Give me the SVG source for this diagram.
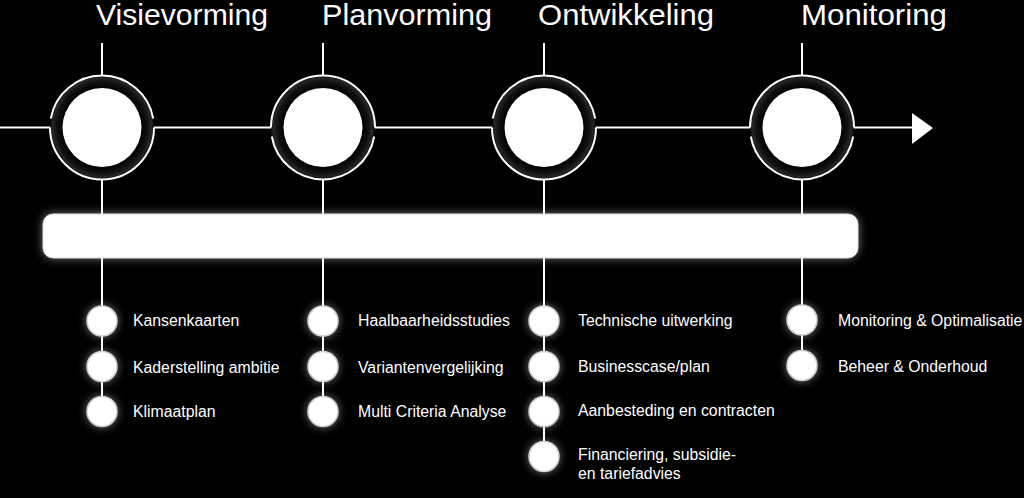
<svg xmlns="http://www.w3.org/2000/svg" width="1024" height="498" viewBox="0 0 1024 498">
<defs>
<radialGradient id="ringGrad" cx="0.5" cy="0.5" r="0.5">
<stop offset="0.74" stop-color="#000"/>
<stop offset="0.88" stop-color="#111"/>
<stop offset="0.95" stop-color="#262626"/>
<stop offset="1" stop-color="#0a0a0a"/>
</radialGradient>
<filter id="glow" x="-30%" y="-60%" width="160%" height="220%">
<feGaussianBlur in="SourceAlpha" stdDeviation="5" result="b"/>
<feFlood flood-color="#fff" flood-opacity="0.45"/>
<feComposite in2="b" operator="in" result="g"/>
<feMerge><feMergeNode in="g"/><feMergeNode in="SourceGraphic"/></feMerge>
</filter>
<filter id="sglow" x="-80%" y="-80%" width="260%" height="260%">
<feGaussianBlur in="SourceAlpha" stdDeviation="4" result="b"/>
<feFlood flood-color="#fff" flood-opacity="0.45"/>
<feComposite in2="b" operator="in" result="g"/>
<feMerge><feMergeNode in="g"/><feMergeNode in="SourceGraphic"/></feMerge>
</filter>
</defs>
<style>
.line{stroke:#fff;stroke-width:2;fill:none}
.arc{stroke:#fff;stroke-width:2;fill:none}
.ring{fill:url(#ringGrad)}
.core{fill:#fff}
.title{font-family:"Liberation Sans",Arial,sans-serif;font-size:30px;fill:#fff}
.item{font-family:"Liberation Sans",Arial,sans-serif;font-size:15.8px;fill:#fff}
.dot{fill:#fff;stroke:#cfcfcf;stroke-width:1.5;filter:url(#sglow)}
</style>
<rect width="1024" height="498" fill="#000"/>

<g id="connectors">
<line class="line" x1="0" y1="127.5" x2="914" y2="127.5"/>
<polygon points="912,113 933,128 912,144" fill="#fff"/>
<line class="line" x1="102" y1="43" x2="102" y2="75"/>
<line class="line" x1="323" y1="43" x2="323" y2="75"/>
<line class="line" x1="544" y1="43" x2="544" y2="75"/>
<line class="line" x1="802" y1="43" x2="802" y2="75"/>
<line class="line" x1="102" y1="179" x2="102" y2="412"/>
<line class="line" x1="323" y1="179" x2="323" y2="412"/>
<line class="line" x1="544" y1="179" x2="544" y2="457"/>
<line class="line" x1="802" y1="179" x2="802" y2="366"/>
</g>

<g id="phase-visievorming">
<text class="title" x="96" y="25" textLength="172" lengthAdjust="spacingAndGlyphs">Visievorming</text>
<circle class="ring" cx="102" cy="127.5" r="52"/>
<circle class="core" cx="102" cy="127.5" r="39.5"/>
<path class="arc" d="M50.8 118.5 A52 52 0 0 1 153.2 118.5"/>
<path class="arc" d="M50 127.5 A52 52 0 0 0 154 127.5"/>
</g>
<g id="phase-planvorming">
<text class="title" x="322" y="25" textLength="170" lengthAdjust="spacingAndGlyphs">Planvorming</text>
<circle class="ring" cx="323" cy="127.5" r="52"/>
<circle class="core" cx="323" cy="127.5" r="39.5"/>
<path class="arc" d="M271 127.5 A52 52 0 0 1 375 127.5"/>
<path class="arc" d="M271.8 136.5 A52 52 0 0 0 374.2 136.5"/>
</g>
<g id="phase-ontwikkeling">
<text class="title" x="538" y="25" textLength="176" lengthAdjust="spacingAndGlyphs">Ontwikkeling</text>
<circle class="ring" cx="544" cy="127.5" r="52"/>
<circle class="core" cx="544" cy="127.5" r="39.5"/>
<path class="arc" d="M492.8 118.5 A52 52 0 0 1 595.2 118.5"/>
<path class="arc" d="M492 127.5 A52 52 0 0 0 596 127.5"/>
</g>
<g id="phase-monitoring">
<text class="title" x="801" y="25" textLength="146" lengthAdjust="spacingAndGlyphs">Monitoring</text>
<circle class="ring" cx="802" cy="127.5" r="52"/>
<circle class="core" cx="802" cy="127.5" r="39.5"/>
<path class="arc" d="M750 127.5 A52 52 0 0 1 854 127.5"/>
<path class="arc" d="M750.8 136.5 A52 52 0 0 0 853.2 136.5"/>
</g>

<g id="bar">
<rect x="43" y="214" width="815" height="44" rx="10" fill="#fff" stroke="#ddd" stroke-width="1" filter="url(#glow)"/>
</g>

<g id="items-visievorming">
<circle class="dot" cx="102" cy="321" r="15"/>
<circle class="dot" cx="102" cy="366.5" r="15"/>
<circle class="dot" cx="102" cy="411.5" r="15"/>
<text class="item" x="133" y="326">Kansenkaarten</text>
<text class="item" x="133" y="372.5">Kaderstelling ambitie</text>
<text class="item" x="133" y="416.5">Klimaatplan</text>
</g>
<g id="items-planvorming">
<circle class="dot" cx="323" cy="321" r="15"/>
<circle class="dot" cx="323" cy="366.5" r="15"/>
<circle class="dot" cx="323" cy="411.5" r="15"/>
<text class="item" x="358" y="326">Haalbaarheidsstudies</text>
<text class="item" x="358" y="372.5">Variantenvergelijking</text>
<text class="item" x="358" y="416.5">Multi Criteria Analyse</text>
</g>
<g id="items-ontwikkeling">
<circle class="dot" cx="544" cy="321" r="15"/>
<circle class="dot" cx="544" cy="366.5" r="15"/>
<circle class="dot" cx="544" cy="411.5" r="15"/>
<circle class="dot" cx="544" cy="456.5" r="15"/>
<text class="item" x="578" y="326">Technische uitwerking</text>
<text class="item" x="578" y="372">Businesscase/plan</text>
<text class="item" x="578" y="416">Aanbesteding en contracten</text>
<text class="item" x="578" y="460">Financiering, subsidie-</text>
<text class="item" x="578" y="478.5">en tariefadvies</text>
</g>
<g id="items-monitoring">
<circle class="dot" cx="802" cy="320" r="15"/>
<circle class="dot" cx="802" cy="365.5" r="15"/>
<text class="item" x="838" y="326">Monitoring &amp; Optimalisatie</text>
<text class="item" x="838" y="371.5">Beheer &amp; Onderhoud</text>
</g>
</svg>
